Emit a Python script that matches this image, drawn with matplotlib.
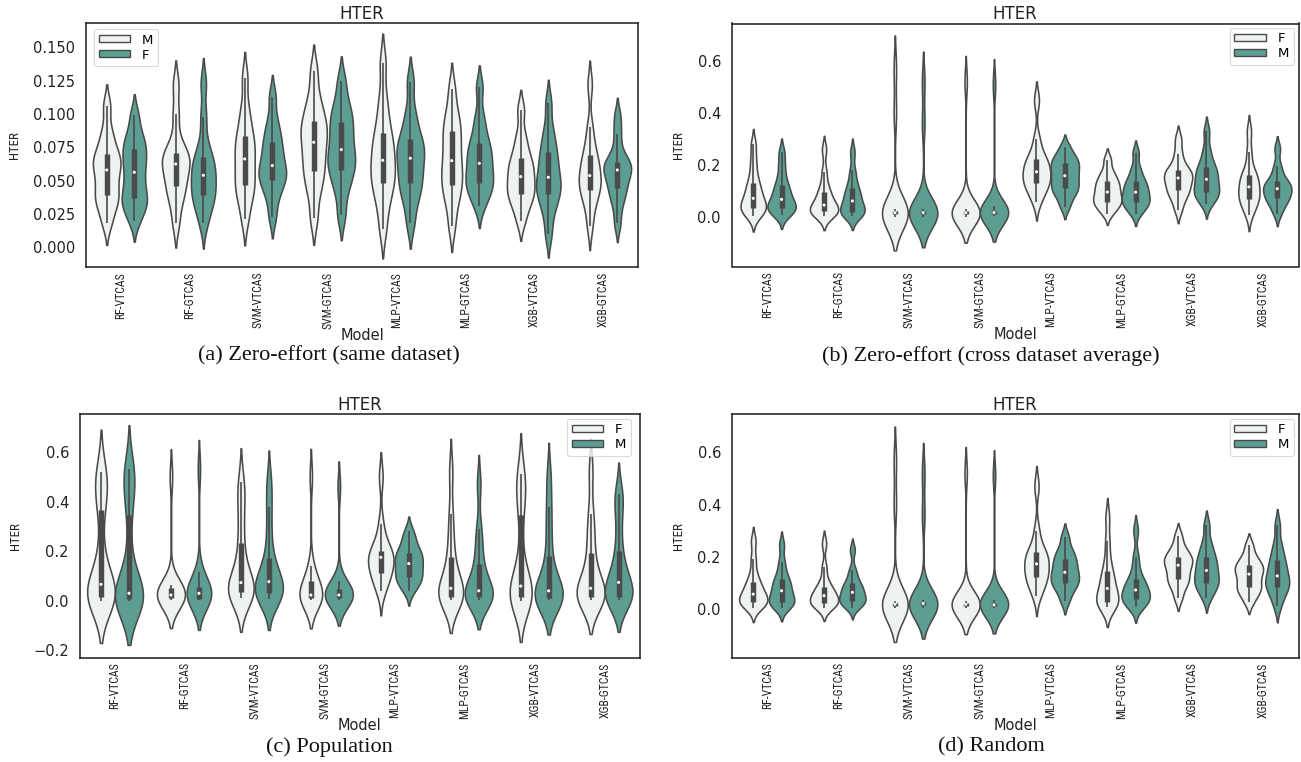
import numpy as np
import matplotlib
matplotlib.use("Agg")
import matplotlib.pyplot as plt
from matplotlib import font_manager as fm
from matplotlib.textpath import TextPath
from matplotlib.patches import Patch
from matplotlib.ticker import MultipleLocator

# ---------------- data ----------------
models = ["RF-VTCAS", "RF-GTCAS", "SVM-VTCAS", "SVM-GTCAS",
          "MLP-VTCAS", "MLP-GTCAS", "XGB-VTCAS", "XGB-GTCAS"]

# (a) Zero-effort (same dataset): hue order M (light), F (teal)
a_hues = ["M", "F"]
a_m = [
    [.018, .029, .0346, .039, .0453, .0512, .058, .0623, .066, .070, .0776, .0873, .106],
    [.018, .0326, .040, .046, .0514, .0566, .0625, .0656, .0682, .071, .080, .100, .122],
    [.021, .0344, .0414, .0468, .0532, .0593, .0663, .0726, .078, .0838, .0929, .1045, .127],
    [.022, .0405, .050, .0575, .0645, .0711, .0788, .0846, .0897, .095, .1028, .1128, .132],
    [.014, .0310, .041, .048, .0537, .0591, .0653, .0726, .0788, .0855, .097, .1117, .138],
    [.016, .032, .0403, .0468, .0528, .0584, .065, .073, .0799, .0873, .094, .1025, .119],
    [.020, .0304, .0358, .040, .0443, .0483, .053, .058, .0622, .0668, .0744, .0842, .103],
    [.016, .030, .0373, .043, .0466, .0499, .0538, .0593, .064, .069, .077, .090, .122],
]
a_f = [
    [.020, .0287, .0333, .0368, .0432, .0493, .0563, .0626, .068, .0738, .079, .0859, .099],
    [.018, .0289, .0346, .039, .044, .0486, .054, .059, .0634, .068, .078, .098, .123],
    [.023, .0372, .0446, .0503, .054, .0573, .0613, .0678, .0734, .0793, .0864, .0955, .113],
    [.024, .0416, .0507, .0578, .0629, .0677, .0733, .0809, .0874, .0943, .1007, .1088, .1246],
    [.018, .0336, .0417, .048, .0542, .060, .0668, .0719, .0763, .081, .090, .1016, .124],
    [.031, .0398, .0444, .048, .053, .0576, .063, .0685, .0733, .0783, .087, .0983, .120],
    [.010, .0256, .0337, .040, .0441, .048, .0525, .0593, .0651, .0713, .079, .0889, .108],
    [.018, .0316, .0387, .0442, .0488, .053, .058, .0603, .0622, .0643, .072, .085, .098],
]

# (b) Zero-effort (cross dataset average): hue order F (light), M (teal)
b_hues = ["F", "M"]
b_f = [
    [.005, .021, .029, .035, .048, .059, .073, .095, .113, .133, .17, .22, .28],
    [.004, .013, .019, .024, .032, .039, .047, .065, .081, .098, .125, .175, .26],
    [.002, .007, .010, .012, .014, .016, .018, .020, .022, .025, .032, .40, .57],
    [.003, .007, .010, .012, .014, .016, .018, .020, .022, .024, .027, .032, .52],
    [.06, .097, .116, .131, .146, .159, .175, .192, .207, .223, .245, .30, .45],
    [.014, .037, .050, .059, .072, .083, .097, .112, .125, .138, .156, .178, .222],
    [.03, .069, .089, .104, .120, .134, .151, .162, .171, .181, .205, .245, .30],
    [.01, .042, .059, .072, .087, .101, .117, .134, .149, .164, .19, .25, .33],
]
b_m = [
    [.008, .022, .029, .035, .046, .057, .069, .089, .106, .124, .155, .20, .25],
    [.004, .013, .018, .022, .036, .048, .063, .080, .095, .111, .14, .18, .25],
    [.002, .007, .010, .012, .014, .016, .018, .020, .022, .025, .032, .36, .52],
    [.005, .008, .010, .012, .014, .016, .018, .020, .023, .026, .035, .045, .51],
    [.041, .078, .097, .112, .128, .143, .16, .177, .192, .208, .221, .238, .27],
    [.014, .037, .050, .059, .072, .083, .097, .112, .125, .138, .161, .191, .248],
    [.052, .075, .088, .097, .113, .128, .146, .163, .178, .193, .22, .26, .33],
    [.014, .045, .061, .074, .086, .097, .11, .120, .129, .138, .165, .199, .264],
]

# (c) Population: hue order F (light), M (teal)
c_hues = ["F", "M"]
c_f = [
    [.000, .004, .009, .016, .028, .043, .066, .10, .19, .366, .44, .49, .52],
    [.001, .004, .007, .010, .014, .018, .023, .030, .040, .050, .057, .065, .50],
    [.010, .018, .026, .036, .048, .060, .073, .10, .16, .234, .33, .42, .48],
    [.001, .004, .007, .010, .014, .018, .023, .035, .055, .079, .10, .14, .50],
    [.04, .075, .098, .113, .135, .155, .175, .184, .192, .20, .24, .31, .50],
    [.003, .008, .012, .016, .028, .038, .05, .08, .12, .177, .25, .35, .52],
    [.000, .005, .010, .016, .028, .042, .059, .09, .18, .346, .43, .48, .51],
    [.001, .006, .011, .016, .026, .036, .05, .08, .13, .194, .27, .35, .52],
]
c_m = [
    [.000, .002, .004, .007, .013, .020, .030, .06, .16, .346, .46, .50, .53],
    [.001, .003, .005, .007, .015, .022, .030, .040, .049, .056, .08, .117, .53],
    [.008, .015, .022, .030, .045, .060, .077, .10, .13, .171, .27, .38, .48],
    [.002, .005, .008, .010, .014, .018, .023, .030, .038, .046, .060, .080, .46],
    [.04, .068, .085, .097, .115, .132, .15, .166, .18, .194, .215, .245, .28],
    [.003, .007, .010, .014, .022, .030, .04, .07, .11, .15, .22, .29, .47],
    [.001, .004, .007, .010, .018, .028, .04, .07, .11, .18, .28, .38, .50],
    [.002, .006, .010, .014, .030, .050, .074, .10, .14, .20, .30, .40, .43],
]

# (d) Random: hue order F (light), M (teal)
d_hues = ["F", "M"]
d_f = [
    [.003, .016, .022, .027, .037, .046, .056, .073, .088, .104, .135, .19, .26],
    [.003, .013, .019, .023, .032, .040, .050, .062, .073, .084, .11, .16, .25],
    [.002, .007, .010, .012, .014, .016, .017, .019, .021, .024, .031, .40, .57],
    [.003, .007, .010, .012, .014, .016, .017, .019, .021, .023, .026, .031, .52],
    [.05, .086, .105, .12, .137, .153, .172, .188, .202, .216, .235, .30, .47],
    [.005, .016, .022, .027, .044, .060, .078, .102, .123, .145, .19, .26, .35],
    [.04, .079, .099, .114, .132, .148, .167, .179, .189, .20, .217, .238, .28],
    [.025, .055, .07, .082, .099, .115, .133, .146, .157, .168, .184, .205, .244],
]
d_m = [
    [.003, .016, .022, .027, .041, .054, .069, .085, .099, .114, .14, .18, .245],
    [.004, .018, .025, .030, .041, .051, .063, .075, .086, .097, .12, .15, .225],
    [.002, .008, .011, .014, .016, .018, .020, .022, .024, .027, .034, .36, .52],
    [.004, .007, .009, .011, .013, .014, .015, .017, .020, .024, .035, .046, .51],
    [.029, .066, .085, .10, .113, .126, .14, .158, .174, .191, .209, .232, .277],
    [.006, .022, .030, .036, .048, .059, .072, .087, .10, .113, .15, .20, .30],
    [.042, .072, .088, .10, .116, .130, .147, .166, .183, .20, .225, .258, .32],
    [.01, .049, .069, .085, .099, .111, .126, .148, .167, .187, .215, .251, .32],
]

captions = ["(a) Zero-effort (same dataset)",
            "(b) Zero-effort (cross dataset average)",
            "(c) Population",
            "(d) Random"]

# ---------------- style ----------------
LIGHT = "#EEF2F0"
TEAL = "#5C9F92"
EDGE = "#4A4A4A"
TXT = "#222222"
plt.rcParams["font.family"] = ["DejaVu Sans"]


def narrow_props():
    """Find a condensed/narrow sans face if one is installed."""
    prefs = ["liberation sans narrow", "dejavu sans condensed", "noto sans condensed",
             "roboto condensed", "open sans condensed", "arial narrow"]
    cands = []
    for f in fm.fontManager.ttflist:
        nm, fn = f.name.lower(), f.fname.lower().split("/")[-1]
        if any(w in fn for w in ("bold", "italic", "oblique", "light", "thin", "black",
                                  "medium", "semi", "extra", "ultra")):
            continue
        if ("narrow" in nm or "condensed" in nm or "narrow" in fn or "condensed" in fn):
            rank = next((k for k, p in enumerate(prefs) if p in nm), len(prefs))
            cands.append((rank, f.fname))
    if cands:
        cands.sort()
        return fm.FontProperties(fname=cands[0][1])
    return fm.FontProperties(family="DejaVu Sans")


NARROW_FP = narrow_props()
# size the rotated labels so the longest label is ~60 px long
_w = TextPath((0, 0), "SVM-GTCAS", size=10, prop=NARROW_FP).get_extents().width * 100 / 72
XT_SIZE = min(8.5, 10 * 60.0 / _w)


def kde_curve(vals, adj, cut=2.0, gridsize=120):
    v = np.asarray(vals, float)
    n = v.size
    bw = adj * n ** (-0.2) * v.std(ddof=1)
    grid = np.linspace(v.min() - cut * bw, v.max() + cut * bw, gridsize)
    dens = np.exp(-0.5 * ((grid[:, None] - v[None, :]) / bw) ** 2).sum(1)
    dens /= n * bw * np.sqrt(2 * np.pi)
    return grid, dens


def draw_panel(ax, light, teal, hues, adj, ylim, step, legend_loc, leg_anchor,
               title_caption, cap_xy, ylab_x):
    for i in range(len(models)):
        samples = [light[i], teal[i]]
        curves = [kde_curve(s, adj) for s in samples]
        peak = max(d.max() for _, d in curves)
        for j, ((g, d), s, col) in enumerate(zip(curves, samples, [LIGHT, TEAL])):
            c = i + (-0.2 if j == 0 else 0.2)
            hw = d / peak * 0.2
            ax.fill_betweenx(g, c - hw, c + hw, facecolor=col, edgecolor=EDGE,
                             linewidth=1.15, zorder=2)
            v = np.asarray(s, float)
            q1, med, q3 = np.percentile(v, [25, 50, 75])
            iqr = q3 - q1
            lo = v[v >= q1 - 1.5 * iqr].min()
            hi = v[v <= q3 + 1.5 * iqr].max()
            ax.plot([c, c], [lo, hi], color=EDGE, lw=1.2, solid_capstyle="butt", zorder=3)
            ax.plot([c, c], [q1, q3], color=EDGE, lw=3.9, solid_capstyle="butt", zorder=3)
            ax.scatter([c], [med], s=5, color="white", edgecolors="none", zorder=4)

    ax.set_xlim(-0.5, len(models) - 0.5)
    ax.set_ylim(*ylim)
    ax.yaxis.set_major_locator(MultipleLocator(step))
    ax.set_xticks(range(len(models)))
    ax.set_xticklabels(models, rotation=90, color=TXT)
    for lab in ax.get_xticklabels():
        lab.set_fontproperties(NARROW_FP)
        lab.set_fontsize(XT_SIZE)
    ax.tick_params(axis="x", length=0, pad=3.5)
    ax.tick_params(axis="y", length=0, pad=8, labelsize=10.5, labelcolor=TXT)
    for sp in ax.spines.values():
        sp.set_color("#1a1a1a")
        sp.set_linewidth(1.1)
    ax.set_title("HTER", fontsize=12, pad=3, color=TXT)
    yl = ax.set_ylabel("HTER", color=TXT)
    yl.set_fontproperties(NARROW_FP)
    yl.set_fontsize(XT_SIZE * 1.1)
    ax.yaxis.set_label_coords(ylab_x, 0.5)
    ax.set_xlabel("Model", fontsize=10.5, color=TXT)
    ax.xaxis.set_label_coords(0.5, -0.25)
    handles = [Patch(facecolor=LIGHT, edgecolor=EDGE, linewidth=1.0, label=hues[0]),
               Patch(facecolor=TEAL, edgecolor=EDGE, linewidth=1.0, label=hues[1])]
    leg = ax.legend(handles=handles, loc=legend_loc, bbox_to_anchor=leg_anchor,
                    fontsize=9.5, handlelength=2.4, handleheight=0.45,
                    handletextpad=0.9, labelspacing=0.15, borderpad=0.35,
                    borderaxespad=0.0, frameon=True, fancybox=True)
    leg.get_frame().set_edgecolor("#d0d0d0")
    leg.get_frame().set_linewidth(0.8)
    ax.figure.text(cap_xy[0], cap_xy[1], title_caption, ha="center", va="center",
                   fontsize=16, family=["Liberation Serif", "DejaVu Serif"], color="#111111")


fig = plt.figure(figsize=(13.01, 7.62), dpi=100)
W, H = 1301.0, 762.0


def rect(l, r, t, b):
    return [l / W, 1 - b / H, (r - l) / W, (b - t) / H]


ax_a = fig.add_axes(rect(86, 638, 23, 267))
ax_b = fig.add_axes(rect(732, 1298.5, 23.5, 266.5))
ax_c = fig.add_axes(rect(80, 639.6, 413.8, 657.5))
ax_d = fig.add_axes(rect(732, 1298.5, 413.8, 657.5))

draw_panel(ax_a, a_m, a_f, a_hues, 0.55, (-0.0148, 0.1683), 0.025,
           "upper left", (8 / 552, 1 - 6 / 244), captions[0], (329 / W, 1 - 356 / H),
           (21.5 - 86) / 552)
draw_panel(ax_b, b_f, b_m, b_hues, 0.6, (-0.189, 0.745), 0.2,
           "upper right", (1 - 4.5 / 566.5, 1 - 4 / 243), captions[1], (991 / W, 1 - 356 / H),
           (685 - 732) / 566.5)
draw_panel(ax_c, c_f, c_m, c_hues, 0.7, (-0.229, 0.754), 0.2,
           "upper right", (1 - 8.5 / 559.6, 1 - 5 / 243.7), captions[2], (329 / W, 1 - 747 / H),
           (21.5 - 80) / 559.6)
draw_panel(ax_d, d_f, d_m, d_hues, 0.6, (-0.187, 0.748), 0.2,
           "upper right", (1 - 4.5 / 566.5, 1 - 5 / 243.7), captions[3], (991 / W, 1 - 747 / H),
           (685 - 732) / 566.5)

fig.savefig("out.png", dpi=100)
